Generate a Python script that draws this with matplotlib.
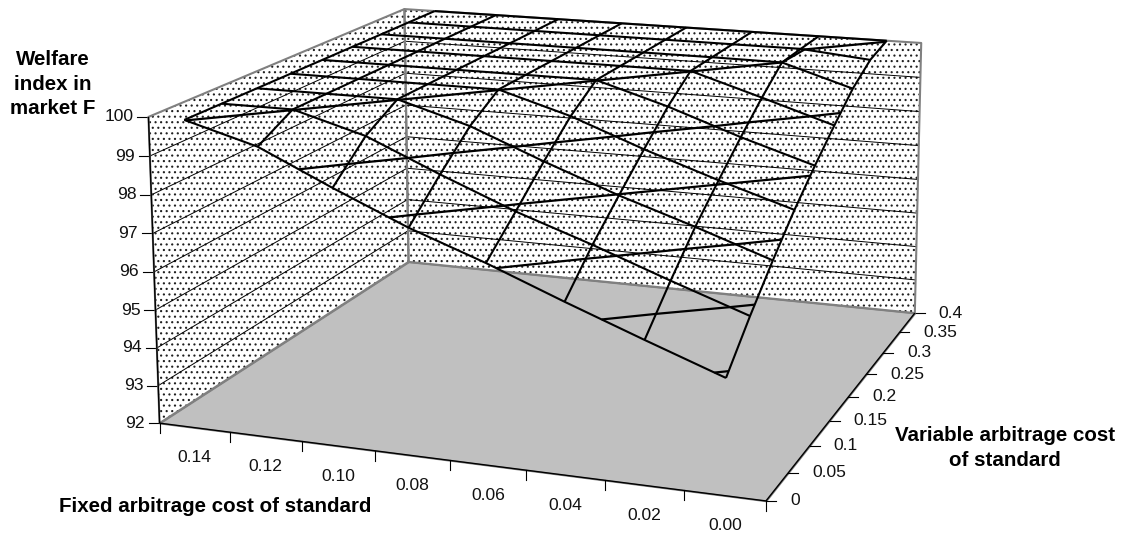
import numpy as np
import matplotlib
matplotlib.use('Agg')
import matplotlib.pyplot as plt
from matplotlib.lines import Line2D
from mpl_toolkits.mplot3d.art3d import Poly3DCollection, Line3DCollection

plt.rcParams['font.family'] = ['Liberation Sans', 'DejaVu Sans']
plt.rcParams['hatch.linewidth'] = 0.8

fixed_cost = [0.14, 0.12, 0.10, 0.08, 0.06, 0.04, 0.02, 0.00]
variable_cost = [0, 0.05, 0.1, 0.15, 0.2, 0.25, 0.3, 0.35, 0.4]
# one row per fixed cost, one column per variable cost
welfare = [
    [100.00, 100.00, 100.00, 100.00, 100.00, 100.00, 100.00, 100.00, 100.00],
    [99.48, 100.00, 100.00, 100.00, 100.00, 100.00, 100.00, 100.00, 100.00],
    [98.61, 99.47, 100.00, 100.00, 100.00, 100.00, 100.00, 100.00, 100.00],
    [97.79, 98.65, 99.45, 100.00, 100.00, 100.00, 100.00, 100.00, 100.00],
    [97.10, 97.88, 98.69, 99.44, 100.00, 100.00, 100.00, 100.00, 100.00],
    [96.34, 97.22, 97.98, 98.72, 99.43, 100.00, 100.00, 100.00, 100.00],
    [95.61, 96.51, 97.35, 98.07, 98.76, 99.41, 99.99, 100.00, 100.00],
    [94.90, 95.83, 96.68, 97.47, 98.16, 98.80, 99.40, 99.82, 100.00],
]
welfare_ticks = [92, 93, 94, 95, 96, 97, 98, 99, 100]
fixed_labels = ['0.14', '0.12', '0.10', '0.08', '0.06', '0.04', '0.02', '0.00']
variable_labels = ['0', '0.05', '0.1', '0.15', '0.2', '0.25', '0.3', '0.35', '0.4']
contour_levels = [95, 96, 97, 98, 99, 99.99]

# axis box: categories sit in the middle of their interval
f_left, f_right = 0.15, -0.01
v_front, v_back = 0, 0.4
w_low, w_high = 92, 100

W, H = 1124, 536

# camera, fitted to where the corners of the axis box land on the page
box_corners = [(0, 0, 0), (1, 0, 0), (0, 1, 0), (1, 1, 0), (0, 0, 1), (0, 1, 1), (1, 1, 1)]
page_corners = [(160, 423), (766, 501), (408, 262), (915, 313), (148, 117), (405, 9), (921, 43)]


def fit_camera():
    rows = []
    for (u, v, w), (px, py) in zip(box_corners, page_corners):
        py = H - py
        rows.append([u, v, w, 1, 0, 0, 0, 0, -px * u, -px * v, -px * w, -px])
        rows.append([0, 0, 0, 0, u, v, w, 1, -py * u, -py * v, -py * w, -py])
    p = np.linalg.svd(np.array(rows, dtype=float))[2][-1].reshape(3, 4)
    # data units to unit box
    scale = np.array([
        [1 / (f_right - f_left), 0, 0, -f_left / (f_right - f_left)],
        [0, 1 / (v_back - v_front), 0, -v_front / (v_back - v_front)],
        [0, 0, 1 / (w_high - w_low), -w_low / (w_high - w_low)],
        [0, 0, 0, 1],
    ])
    m = np.vstack([p[0], p[1], [0.3, 0.7, 0.2, 1.0], p[2]])
    return m @ scale


M = fit_camera()


def page(f, v, w):
    q = M @ np.array([f, v, w, 1.0])
    return q[0] / q[3], q[1] / q[3]


def add_lines(segments, color, lw, zorder):
    ax.add_collection3d(Line3DCollection(segments, colors=color, linewidths=lw, zorder=zorder), autolim=False)


fig = plt.figure(figsize=(W / 100, H / 100), dpi=100)
ax = fig.add_axes([0, 0, 1, 1], projection='3d')
ax.get_proj = lambda: M
ax.apply_aspect = lambda position=None: None
ax.viewLim.intervalx = (0, W)
ax.viewLim.intervaly = (0, H)
ax.computed_zorder = False
ax.set_axis_off()

# walls and floor
left_wall = [(f_left, v_front, w_low), (f_left, v_back, w_low), (f_left, v_back, w_high), (f_left, v_front, w_high)]
back_wall = [(f_left, v_back, w_low), (f_right, v_back, w_low), (f_right, v_back, w_high), (f_left, v_back, w_high)]
floor = [(f_left, v_front, w_low), (f_right, v_front, w_low), (f_right, v_back, w_low), (f_left, v_back, w_low)]
ax.add_collection3d(Poly3DCollection([left_wall, back_wall], facecolor='white', edgecolor='#202020',
                                     linewidth=0, hatch='...', zorder=1), autolim=False)
ax.add_collection3d(Poly3DCollection([floor], facecolor='#c0c0c0', edgecolor='#808080', linewidth=1.2, zorder=2),
                    autolim=False)

# gridlines on the walls
grid = []
for t in welfare_ticks[1:-1]:
    grid.append([(f_left, v_front, t), (f_left, v_back, t), (f_right, v_back, t)])
add_lines(grid, 'black', 0.7, 2.5)

# wall borders
add_lines([left_wall + left_wall[:1], back_wall + back_wall[:1]], '#808080', 1.5, 3)

# outer axis lines
add_lines([[(f_left, v_front, w_low), (f_left, v_front, w_high)],
           [(f_left, v_front, w_low), (f_right, v_front, w_low), (f_right, v_back, w_low)]], 'black', 1.0, 4)

# surface
X, Y = np.meshgrid(variable_cost, fixed_cost)
Z = np.array(welfare)
ax.plot_wireframe(Y, X, Z, rstride=1, cstride=1, color='black', linewidth=1.5, zorder=5)
ax.contour(Y, X, Z, levels=contour_levels, colors='black', linewidths=1.6, zorder=5)

# ticks and tick labels
font = 12.6
for t in welfare_ticks:
    x, y = page(f_left, v_front, t)
    ax.add_artist(Line2D([x - 11, x], [y, y], color='black', lw=0.8))
    ax.text2D(x - 15, y, str(t), transform=ax.transData, ha='right', va='center', fontsize=font, color='#111111')

for i in range(len(fixed_cost) + 1):
    f = f_left + (f_right - f_left) * i / len(fixed_cost)
    x, y = page(f, v_front, w_low)
    ax.add_artist(Line2D([x, x], [y, y - 10], color='black', lw=0.8))
for f, lab in zip(fixed_cost, fixed_labels):
    x, y = page(f, v_front, w_low)
    ax.text2D(x, y - 30, lab, transform=ax.transData, ha='center', va='center', fontsize=font, color='#111111')

for v, lab in zip(variable_cost, variable_labels):
    x, y = page(f_right, v, w_low)
    ax.add_artist(Line2D([x, x + 10], [y, y], color='black', lw=0.8))
    ax.text2D(x + 24, y, lab, transform=ax.transData, ha='left', va='center', fontsize=font, color='#111111')

# axis titles
title_font = 14.8
fig.text(53 / W, 1 - 84 / H, 'Welfare\nindex in\nmarket F', ha='center', va='center',
         fontsize=title_font, fontweight='bold', linespacing=1.38)
fig.text(215 / W, 1 - 507 / H, 'Fixed arbitrage cost of standard', ha='center', va='center',
         fontsize=title_font, fontweight='bold')
fig.text(1005 / W, 1 - 448 / H, 'Variable arbitrage cost\nof standard', ha='center', va='center',
         fontsize=title_font, fontweight='bold', linespacing=1.38)

fig.savefig('out.png', dpi=100)
